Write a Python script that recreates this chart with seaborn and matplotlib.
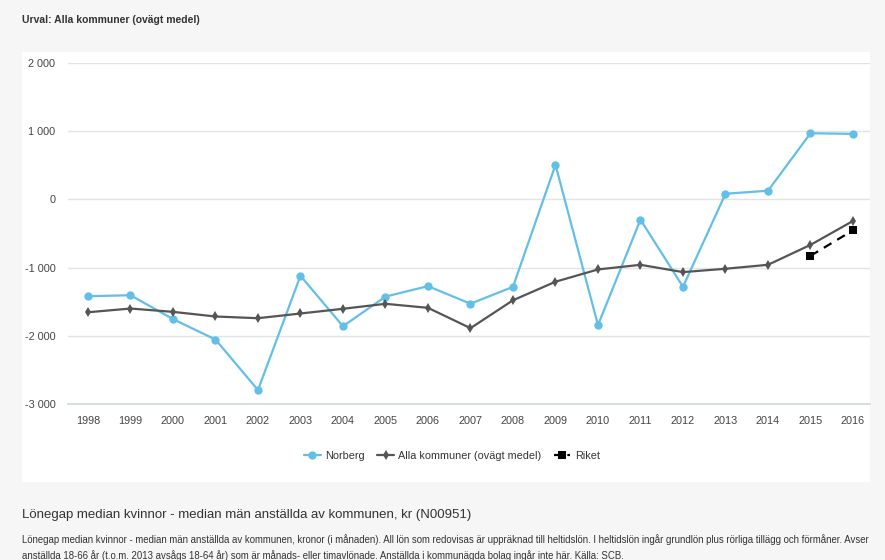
import matplotlib
matplotlib.use("Agg")
import matplotlib.pyplot as plt
import matplotlib.ticker as mticker
from matplotlib.lines import Line2D
from matplotlib.patches import Rectangle
import pandas as pd
import seaborn as sns

# data
years = list(range(1998, 2017))
norberg = [-1420, -1405, -1755, -2055, -2795, -1120, -1860, -1425, -1272, -1530,
           -1282, 507, -1843, -297, -1282, 83, 127, 970, 961]
alla = [-1655, -1600, -1649, -1717, -1742, -1673, -1604, -1531, -1590, -1888,
        -1479, -1207, -1027, -959, -1066, -1017, -959, -667, -316]
riket_years = [2015, 2016]
riket = [-827, -453]

series_names = ["Norberg", "Alla kommuner (ovägt medel)", "Riket"]
y_ticks = [-3000, -2000, -1000, 0, 1000, 2000]

sns.set_theme(style="white")
plt.rcParams["font.family"] = ["Liberation Sans", "DejaVu Sans"]

blue = "#63bfe6"
grey = "#555555"
W, H = 885, 560
fig = plt.figure(figsize=(W / 100, H / 100), dpi=100)
fig.patch.set_facecolor("#f6f6f6")
# white panel behind the chart
fig.patches.append(Rectangle((22 / W, 1 - 482 / H), 848 / W, 430 / H,
                             transform=fig.transFigure, facecolor="white",
                             edgecolor="none", zorder=-1))

ax = fig.add_axes([68 / W, 1 - 404 / H, 802 / W, 341 / H])
ax.set_facecolor("white")

df_n = pd.DataFrame({"year": years, "value": norberg})
df_a = pd.DataFrame({"year": years, "value": alla})
df_r = pd.DataFrame({"year": riket_years, "value": riket})

sns.lineplot(data=df_n, x="year", y="value", ax=ax, color=blue, lw=1.6,
             marker="o", markersize=6, markeredgewidth=0, zorder=3)
sns.lineplot(data=df_a, x="year", y="value", ax=ax, color=grey, lw=1.6,
             marker="d", markersize=5.5, markeredgewidth=0, zorder=4)
sns.lineplot(data=df_r, x="year", y="value", ax=ax, color="black", lw=1.6,
             linestyle=(0, (4, 3)), marker="s", markersize=6,
             markeredgewidth=0, zorder=5)

ax.set_xlim(1997.53, 2016.4)
ax.set_ylim(-3000, 2000)
ax.set_xticks(years)
ax.set_yticks(y_ticks)
ax.yaxis.set_major_formatter(
    mticker.FuncFormatter(lambda v, p: f"{int(v):,}".replace(",", " ")))
ax.grid(axis="y", color="#e3e3e3", lw=1)
ax.grid(axis="x", visible=False)
for s in ["top", "right", "left"]:
    ax.spines[s].set_visible(False)
ax.spines["bottom"].set_color("#ccd6eb")
ax.spines["bottom"].set_linewidth(1.2)
ax.tick_params(axis="both", length=0, labelsize=7.8, colors="#444444")
ax.tick_params(axis="x", pad=9)
ax.tick_params(axis="y", pad=9)
ax.set_xlabel("")
ax.set_ylabel("")

handles = [
    Line2D([], [], color=blue, lw=1.6, marker="o", markersize=6, markeredgewidth=0),
    Line2D([], [], color=grey, lw=1.6, marker="d", markersize=5.5, markeredgewidth=0),
    Line2D([], [], color="black", lw=1.6, linestyle=(0, (2, 1)), marker="s",
           markersize=6, markeredgewidth=0),
]
fig.legend(handles, series_names, loc="center", bbox_to_anchor=(452 / W, 1 - 456 / H),
           ncol=3, frameon=False, fontsize=7.8, handlelength=1.5, handletextpad=0.4,
           columnspacing=1.2, labelcolor="#333333")

fig.text(22 / W, 1 - 20 / H, "Urval: Alla kommuner (ovägt medel)", fontsize=7.5,
         fontweight="bold", color="#333333", va="center")
fig.text(22 / W, 1 - 515 / H,
         "Lönegap median kvinnor - median män anställda av kommunen, kr (N00951)",
         fontsize=9.5, color="#333333", va="center")
fig.text(22 / W, 1 - 540 / H,
         "Lönegap median kvinnor - median män anställda av kommunen, kronor (i månaden). "
         "All lön som redovisas är uppräknad till heltidslön. I heltidslön ingår grundlön "
         "plus rörliga tillägg och förmåner. Avser",
         fontsize=6.95, color="#333333", va="center")
fig.text(22 / W, 1 - 556 / H,
         "anställda 18-66 år (t.o.m. 2013 avsågs 18-64 år) som är månads- eller timavlönade. "
         "Anställda i kommunägda bolag ingår inte här. Källa: SCB.",
         fontsize=6.95, color="#333333", va="center")

fig.savefig("out.png", dpi=100, facecolor=fig.get_facecolor())
